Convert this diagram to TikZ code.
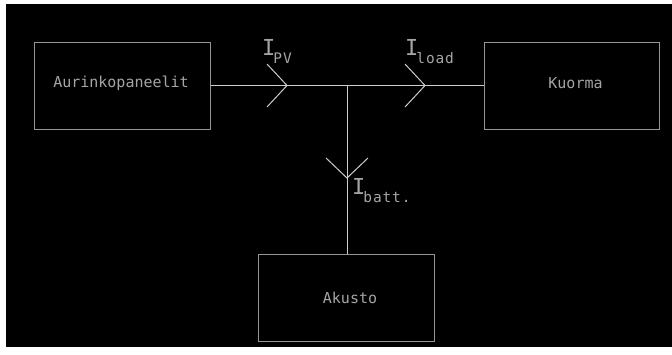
\documentclass[tikz,border=0pt]{standalone}
\usepackage{fontspec}
\setmonofont{DejaVu Sans Mono}
\definecolor{boxline}{RGB}{150,150,150}
\definecolor{wire}{RGB}{205,205,205}
\definecolor{txt}{RGB}{165,165,165}
\tikzset{
  block/.style={draw=boxline, line width=1pt, minimum width=176pt, minimum height=87pt, inner sep=0pt},
  blocktext/.style={text=txt, font=\ttfamily\fontsize{15}{15}\selectfont, inner sep=0pt},
  wireline/.style={draw=wire, line width=1pt},
  chev/.style={draw=wire, line width=1pt},
  curlabel/.style={text=txt, inner sep=0pt, anchor=base west, font=\ttfamily}
}
\newcommand{\curr}[1]{{\fontsize{22}{22}\selectfont I}\kern-2pt\raisebox{-8pt}{\fontsize{14.5}{14.5}\selectfont\addfontfeatures{LetterSpace=6}#1}}
\begin{document}
\begin{tikzpicture}[x=1pt, y=-1pt]
  % canvas
  \fill[white] (0,0) rectangle (672,354);
  \fill[black] (6,4) rectangle (672,347);
  \useasboundingbox (0,0) rectangle (672,354);

  % blocks
  \node[block] (pv) at (122,85.5) {};
  \node[block, minimum width=175pt] (load) at (571.5,85.5) {};
  \node[block] (batt) at (346,297.5) {};
  \node[blocktext] (pvtext) at (121,83.5) {Aurinkopaneelit};
  \node[blocktext] (loadtext) at (575.5,83.5) {Kuorma};
  \node[blocktext] (batttext) at (350,297.5) {Akusto};

  % bus and junction
  \coordinate (j) at (347,85.5);
  \draw[wireline] (pv.east) -- (load.west);
  \draw[wireline] (j) -- (j |- batt.north);

  % current direction marks
  \coordinate (tpv) at (287,85.5);
  \coordinate (tload) at (425,85.5);
  \coordinate (tbatt) at (347,178);
  \draw[chev] (tpv) ++(-20,-21.5) -- (tpv) -- ++(-20,21.5);
  \draw[chev] (tload) ++(-20,-21.5) -- (tload) -- ++(-20,21.5);
  \draw[chev] (tbatt) ++(-21,-20) -- (tbatt) -- ++(21,-20);

  % current labels
  \node[curlabel] (ipv) at (262,55.5) {\curr{PV}};
  \node[curlabel] (iload) at (405,55.5) {\curr{load}};
  \node[curlabel] (ibatt) at (352,194) {\curr{batt.}};
\end{tikzpicture}
\end{document}
